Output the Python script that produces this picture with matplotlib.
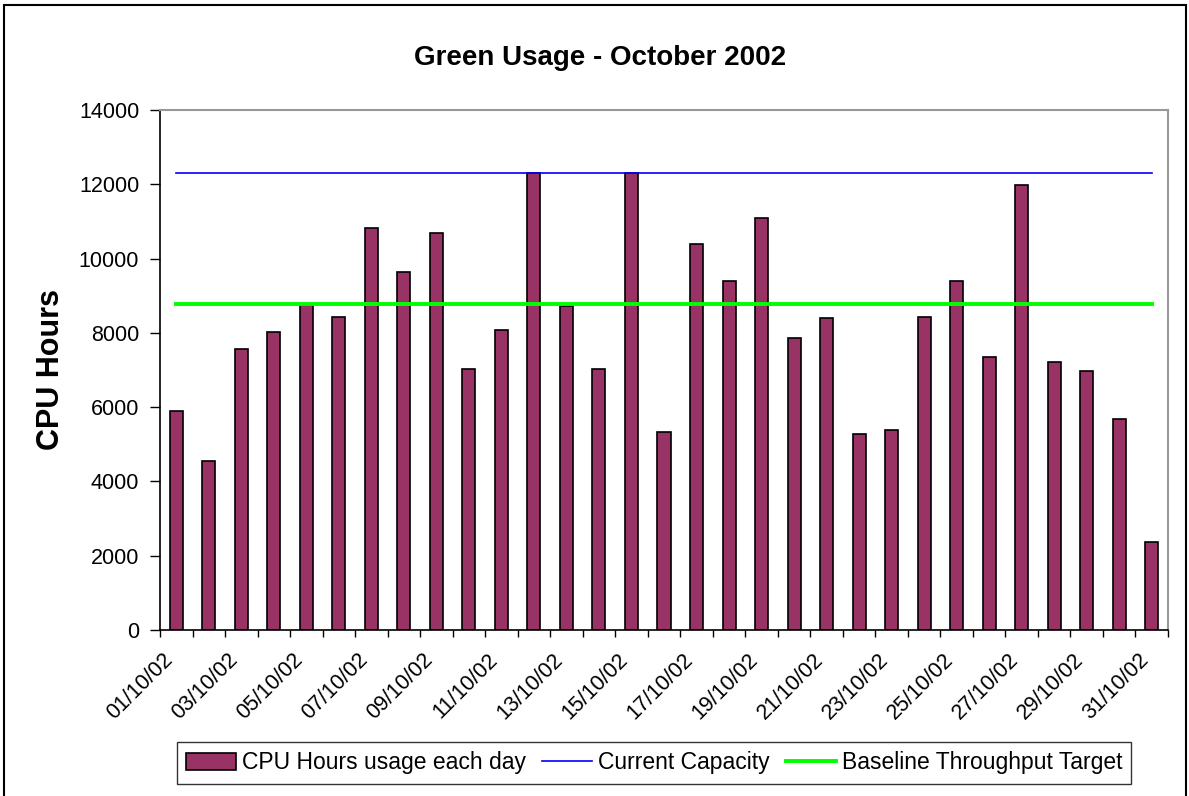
import matplotlib
matplotlib.use('Agg')
import matplotlib.pyplot as plt
from matplotlib.patches import Rectangle
from matplotlib.ticker import FixedLocator, NullFormatter
import numpy as np

plt.rcParams['font.family'] = ['Liberation Sans', 'DejaVu Sans']

# ── Data ──────────────────────────────────────────────────────────────────
days = [f'{d:02d}/10/02' for d in range(1, 32)]
cpu_hours = [5900, 4550, 7560, 8030, 8750, 8430, 10810, 9640, 10700, 7020,
             8090, 12300, 8720, 7020, 12300, 5330, 10380, 9390, 11100, 7850,
             8390, 5280, 5380, 8430, 9390, 7360, 11970, 7220, 6970, 5670,
             2360]
current_capacity = 12300
baseline_target = 8770
y_ticks = [0, 2000, 4000, 6000, 8000, 10000, 12000, 14000]

BAR_COLOR = '#993366'

W, H = 1189, 796
fig = plt.figure(figsize=(W / 100, H / 100), dpi=100, facecolor='white')

# outer chart frame
fig.patches.append(Rectangle((3.5 / W, -0.02), (1186 - 3.5) / W, 1 - 5 / H + 0.02,
                             transform=fig.transFigure, fill=False,
                             edgecolor='black', linewidth=1.5))

ax = fig.add_axes([160 / W, (H - 630) / H, 1008 / W, 520 / H])

x = np.arange(len(days))
bars = ax.bar(x, cpu_hours, width=0.4, color=BAR_COLOR, edgecolor='black',
              linewidth=1.2, zorder=2)
cap_line, = ax.plot([x[0], x[-1]], [current_capacity] * 2, color='#0000FF',
                    lw=1.2, zorder=3)
base_line, = ax.plot([x[0], x[-1]], [baseline_target] * 2, color='#00FF00',
                     lw=2.8, zorder=3)

ax.set_xlim(-0.5, len(days) - 0.5)
ax.set_ylim(0, 14000)
ax.set_yticks(y_ticks)
ax.set_yticklabels([str(v) for v in y_ticks], fontsize=15.5)

# labels every other day (nudged left like Excel's rotated labels),
# tick marks at category edges
ax.set_xticks(x[::2] - 0.43)
ax.set_xticklabels(days[::2], rotation=45, ha='right', va='top',
                   rotation_mode='anchor', fontsize=15.5)
ax.tick_params(axis='x', which='major', length=0, pad=14)
ax.xaxis.set_minor_locator(FixedLocator(np.arange(-0.5, len(days), 1.0)))
ax.xaxis.set_minor_formatter(NullFormatter())
ax.tick_params(axis='x', which='minor', length=5, width=1, direction='out')
ax.tick_params(axis='y', length=7, width=1, direction='out', pad=8)

for side in ['top', 'right']:
    ax.spines[side].set_color('#999999')
    ax.spines[side].set_linewidth(1.5)
for side in ['left', 'bottom']:
    ax.spines[side].set_color('black')
    ax.spines[side].set_linewidth(1.2)

ax.set_ylabel('CPU Hours', fontsize=22, fontweight='bold', labelpad=9)
fig.text(600 / W, 1 - 58 / H, 'Green Usage - October 2002',
         ha='center', va='center', fontsize=20, fontweight='bold')

leg = fig.legend([bars, cap_line, base_line],
                 ['CPU Hours usage each day', 'Current Capacity',
                  'Baseline Throughput Target'],
                 loc='center', bbox_to_anchor=(654 / W, 1 - 763 / H),
                 ncol=3, fontsize=16.5, frameon=True, fancybox=False,
                 edgecolor='black', handlelength=2.2, handletextpad=0.25,
                 columnspacing=0.7, borderpad=0.4)
leg.get_frame().set_linewidth(1.0)

fig.savefig('out.png', dpi=100)
